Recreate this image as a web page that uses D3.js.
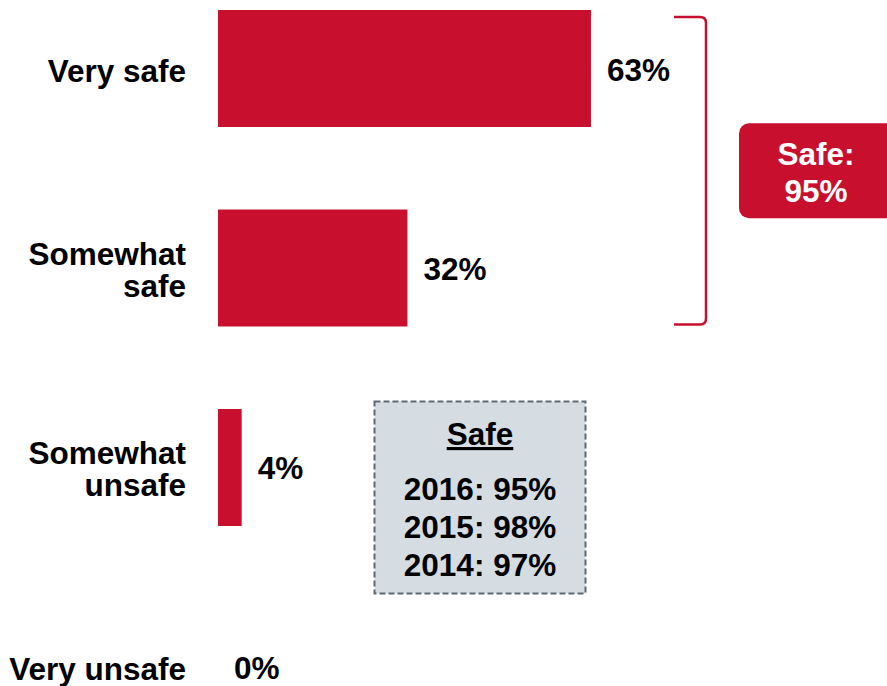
<!DOCTYPE html>
<html lang="en">
<head>
<meta charset="UTF-8">
<title>Safety</title>
<script src="https://cdn.jsdelivr.net/npm/d3@7"></script>
<style>
  body { margin: 0; background: #fff; }
  text { font-family: "Liberation Sans", Arial, sans-serif; font-weight: bold; }
</style>
</head>
<body>
<div id="chart"></div>
<script>
// data
var categories = ["Very safe", "Somewhat safe", "Somewhat unsafe", "Very unsafe"];
var catLines = [["Very safe"], ["Somewhat", "safe"], ["Somewhat", "unsafe"], ["Very unsafe"]];
var values = [63, 32, 4, 0];
var totalLabel = ["Safe:", "95%"];
var pastYears = ["2016", "2015", "2014"];
var pastValues = [95, 98, 97];

var width = 887, height = 686;
var red = "#c8102e";
var fs = 31.5;

var svg = d3.select("#chart").append("svg")
    .attr("width", width)
    .attr("height", height);

var x = d3.scaleLinear().domain([0, 100]).range([218, 810]);
var y = d3.scaleBand().domain(categories).range([10, 725.5])
    .paddingInner(0.4135).paddingOuter(0);

// bars
svg.selectAll("rect.bar")
    .data(values)
    .enter().append("rect")
    .attr("class", "bar")
    .attr("x", x(0))
    .attr("y", function (d, i) { return y(categories[i]); })
    .attr("width", function (d) { return x(d) - x(0); })
    .attr("height", y.bandwidth())
    .attr("fill", red);

// value labels
svg.selectAll("text.val")
    .data(values)
    .enter().append("text")
    .attr("class", "val")
    .attr("x", function (d) { return x(d) + 16; })
    .attr("y", function (d, i) { return y(categories[i]) + y.bandwidth() / 2 + 12; })
    .attr("font-size", fs)
    .text(function (d) { return d + "%"; });

// category labels
catLines.forEach(function (lines, i) {
    var cy = y(categories[i]) + y.bandwidth() / 2;
    var t = svg.append("text")
        .attr("text-anchor", "end")
        .attr("font-size", fs)
        .attr("x", 186)
        .attr("y", cy + 13 - (lines.length - 1) * 16);
    lines.forEach(function (l, j) {
        t.append("tspan").attr("x", 186).attr("dy", j ? 31.5 : 0).text(l);
    });
});

// bracket
var bTop = y(categories[0]) + 7;
var bBot = y(categories[1]) + y.bandwidth() - 2;
var bx0 = 674, bx1 = 706;
svg.append("path")
    .attr("d", "M" + bx0 + "," + bTop + " L" + (bx1 - 6) + "," + bTop +
        " Q" + bx1 + "," + bTop + " " + bx1 + "," + (bTop + 6) +
        " L" + bx1 + "," + (bBot - 6) +
        " Q" + bx1 + "," + bBot + " " + (bx1 - 6) + "," + bBot +
        " L" + bx0 + "," + bBot)
    .attr("fill", "none")
    .attr("stroke", red)
    .attr("stroke-width", 2.5);

// total box
var mid = (bTop + bBot) / 2;
svg.append("rect")
    .attr("x", 739).attr("y", mid - 47.5)
    .attr("width", 160).attr("height", 95)
    .attr("rx", 10)
    .attr("fill", red);
svg.selectAll("text.tot")
    .data(totalLabel)
    .enter().append("text")
    .attr("class", "tot")
    .attr("x", 816)
    .attr("y", function (d, i) { return mid - 6 + i * 37; })
    .attr("text-anchor", "middle")
    .attr("font-size", fs)
    .attr("fill", "#fff")
    .text(function (d) { return d; });

// trend box
svg.append("rect")
    .attr("x", 374.5).attr("y", 401.5)
    .attr("width", 211).attr("height", 192)
    .attr("fill", "#d6dde2")
    .attr("stroke", "#5e6a73")
    .attr("stroke-width", 2)
    .attr("stroke-dasharray", "6,3");
svg.append("text")
    .attr("x", 480).attr("y", 445)
    .attr("text-anchor", "middle")
    .attr("font-size", fs)
    .attr("text-decoration", "underline")
    .text("Safe");
svg.selectAll("text.yr")
    .data(pastYears)
    .enter().append("text")
    .attr("class", "yr")
    .attr("x", 480)
    .attr("y", function (d, i) { return 500 + i * 38; })
    .attr("text-anchor", "middle")
    .attr("font-size", fs)
    .text(function (d, i) { return d + ": " + pastValues[i] + "%"; });
</script>
</body>
</html>
